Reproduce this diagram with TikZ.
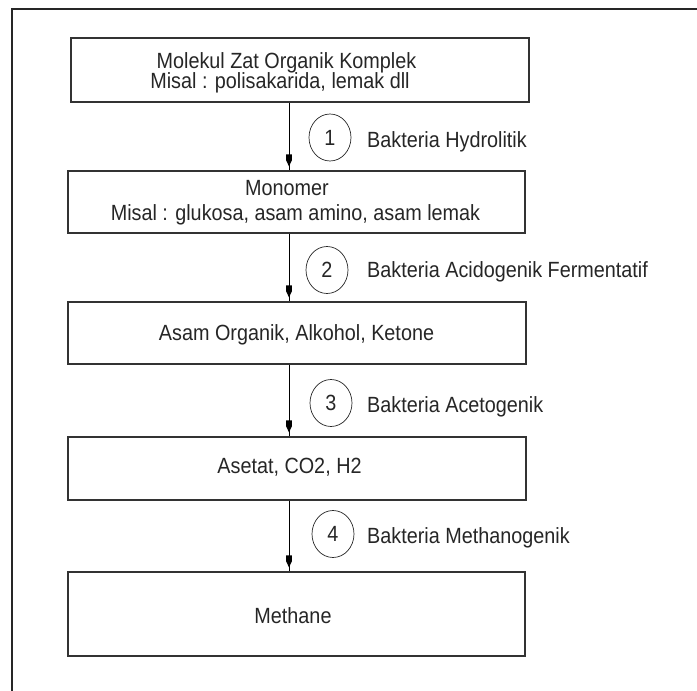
\documentclass[tikz,border=0pt]{standalone}
\usepackage{fontspec}
\setmainfont[FakeStretch=0.9]{Liberation Sans}
\usetikzlibrary{shapes.geometric,decorations.markings}
\tikzset{
  box/.style={draw=black!80, line width=1.2pt, rectangle, inner sep=0pt, minimum width=458pt},
  txt/.style={anchor=base, inner sep=0pt, text=black!85, font=\fontsize{22}{26}\selectfont},
  lbl/.style={anchor=base west, inner sep=0pt, text=black!85, font=\fontsize{22}{26}\selectfont},
  num/.style={draw=black!85, line width=0.7pt, ellipse, inner sep=0pt, minimum width=42pt, minimum height=47pt, text=black!85, font=\fontsize{22}{26}\selectfont},
  flow/.style={draw=black, line width=0.9pt, postaction={decorate},
    decoration={markings, mark=at position -4pt with {\fill (-12pt,-2.8pt) -- (-6pt,-2.8pt) -- (0pt,0pt) -- (-6pt,2.8pt) -- (-12pt,2.8pt) -- cycle;}}}
}
\begin{document}
\begin{tikzpicture}[x=1pt,y=-1pt]
\useasboundingbox (0,0) rectangle (697,691);
% outer frame
\draw[line width=2pt, black!85] (12,691) -- (12,9) -- (697,9);
% boxes
\node[box, minimum height=64pt] (b1) at (300,70) {};
\node[box, minimum width=457pt, minimum height=62pt] (b2) at (296.5,202) {};
\node[box, minimum height=62pt] (b3) at (297,333) {};
\node[box, minimum height=63pt] (b4) at (297,468.5) {};
\node[box, minimum width=457pt, minimum height=84pt] (b5) at (296.5,614) {};
% box texts
\node[txt] (t1a) at (286.5,68) {Molekul Zat Organik Komplek};
\node[txt] (t1b) at (280,88) {Misal : polisakarida, lemak dll};
\node[txt] (t2a) at (287,195) {Monomer};
\node[txt] (t2b) at (295.5,220.5) {Misal : glukosa, asam amino, asam lemak};
\node[txt] (t3) at (296.5,340) {Asam Organik, Alkohol, Ketone};
\node[txt] (t4) at (289.5,473) {Asetat, CO2, H2};
\node[txt] (t5) at (293,623.5) {Methane};
% connectors
\coordinate (ax) at (289,0);
\draw[flow] (b1.south -| ax) -- (b2.north -| ax);
\draw[flow] (b2.south -| ax) -- (b3.north -| ax);
\draw[flow] (b3.south -| ax) -- (b4.north -| ax);
\draw[flow] (b4.south -| ax) -- (b5.north -| ax);
% step numbers
\node[num] (c1) at (330,137.5) {1};
\node[num] (c2) at (327,270) {2};
\node[num] (c3) at (331,403) {3};
\node[num] (c4) at (333,534) {4};
% labels
\node[lbl] (l1) at (367,147) {Bakteria Hydrolitik};
\node[lbl] (l2) at (367,277) {Bakteria Acidogenik Fermentatif};
\node[lbl] (l3) at (367,412) {Bakteria Acetogenik};
\node[lbl] (l4) at (367,543) {Bakteria Methanogenik};
\end{tikzpicture}
\end{document}
